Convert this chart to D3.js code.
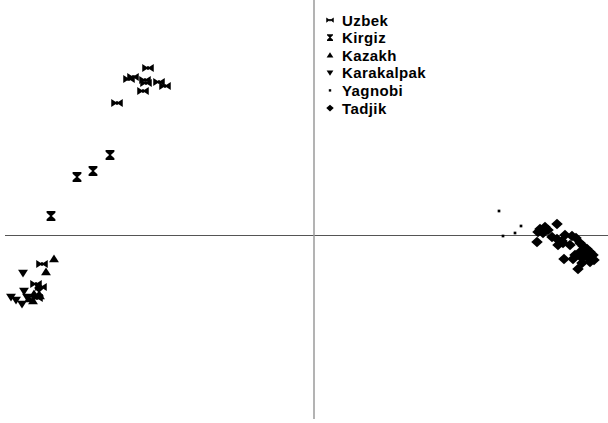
<!DOCTYPE html>
<html>
<head>
<meta charset="utf-8">
<script src="https://cdn.jsdelivr.net/npm/d3@7"></script>
<style>
  html, body { margin: 0; padding: 0; background: #fff; }
  svg { display: block; }
</style>
</head>
<body>
<svg id="chart" width="608" height="423"></svg>
<script>
// Principal-component scores (PC1, PC2) for each population
const groups = ["Uzbek", "Kirgiz", "Kazakh", "Karakalpak", "Yagnobi", "Tadjik"];

const uzbek = [
  [-1.66, 1.67], [-1.81, 1.58], [-1.85, 1.56], [-1.69, 1.55], [-1.68, 1.52],
  [-1.55, 1.53], [-1.49, 1.49], [-1.71, 1.44], [-1.97, 1.32],
  [-2.72, -0.29], [-2.78, -0.49], [-2.73, -0.52], [-2.77, -0.63]
];
const kirgiz = [
  [-2.04, 0.80], [-2.21, 0.64], [-2.37, 0.58], [-2.63, 0.19], [-2.75, -0.57]
];
const kazakh = [
  [-2.60, -0.24], [-2.68, -0.37], [-2.80, -0.59], [-2.74, -0.61], [-2.85, -0.64], [-2.81, -0.66]
];
const karakalpak = [
  [-2.91, -0.38], [-2.90, -0.56], [-3.03, -0.62], [-2.98, -0.65], [-2.92, -0.69], [-2.87, -0.62]
];
const yagnobi = [
  [1.85, 0.24], [2.07, 0.09], [2.01, 0.02], [1.89, -0.01]
];
const tadjik = [
  [2.26, 0.06], [2.31, 0.08], [2.24, 0.03], [2.29, 0.02], [2.43, 0.11], [2.23, -0.07],
  [2.38, -0.02], [2.43, -0.04], [2.48, -0.06], [2.51, 0.00], [2.58, -0.01], [2.44, -0.10],
  [2.49, -0.08], [2.56, -0.10], [2.62, -0.03], [2.66, -0.08], [2.69, -0.11], [2.73, -0.14],
  [2.76, -0.17], [2.79, -0.20], [2.66, -0.17], [2.71, -0.19], [2.61, -0.20], [2.59, -0.24],
  [2.68, -0.23], [2.74, -0.23], [2.80, -0.25], [2.50, -0.24], [2.68, -0.28], [2.64, -0.34],
  [2.76, -0.27], [2.34, 0.05]
];

const seriesData = [uzbek, kirgiz, kazakh, karakalpak, yagnobi, tadjik];

// Marker outlines, centred on the origin
const markerPaths = {
  Uzbek: "M-5,-3.5L-1,-0.8L-1,-1.5L1,-1.5L1,-0.8L5,-3.5L5,3.5L1,0.8L1,1.5L-1,1.5L-1,0.8L-5,3.5Z",
  Kirgiz: "M-4,-4.5L4,-4.5L4,-3L0.8,0L4,3L4,4.5L-4,4.5L-4,3L-0.8,0L-4,-3Z",
  Kazakh: "M0,-4L4.5,3L-4.5,3Z",
  Karakalpak: "M0,4L4.5,-3L-4.5,-3Z",
  Yagnobi: "M-1.5,-1.5L1.5,-1.5L1.5,1.5L-1.5,1.5Z",
  Tadjik: "M0,-4.5L5,0L0,4.5L-5,0Z"
};
const markerScale = { Uzbek: 1.15, Kirgiz: 1.1, Kazakh: 1.1, Karakalpak: 1.1, Yagnobi: 0.9, Tadjik: 1.15 };

const svg = d3.select("#chart");

const x = d3.scaleLinear().domain([-3.09, 2.94]).range([5, 608]);
const y = d3.scaleLinear().domain([2.35, -1.84]).range([0, 419]);

// Zero axes crossing at the origin
svg.append("line")
  .attr("x1", x(-3.09)).attr("x2", x(2.94))
  .attr("y1", y(0) + 0.5).attr("y2", y(0) + 0.5)
  .attr("stroke", "#555").attr("stroke-width", 1);
svg.append("line")
  .attr("x1", x(0)).attr("x2", x(0))
  .attr("y1", y(2.35)).attr("y2", y(-1.84))
  .attr("stroke", "#9a9a9a").attr("stroke-width", 1.5);

// Points
groups.forEach((g, i) => {
  svg.append("g")
    .selectAll("path")
    .data(seriesData[i])
    .join("path")
    .attr("d", markerPaths[g])
    .attr("transform", d => `translate(${x(d[0])},${y(d[1])}) scale(${markerScale[g]})`)
    .attr("fill", "#000");
});

// Legend
const legend = svg.append("g").attr("transform", "translate(330,20)");
const rows = legend.selectAll("g")
  .data(groups)
  .join("g")
  .attr("transform", (d, i) => `translate(0,${i * 17.6})`);
rows.append("path")
  .attr("d", d => markerPaths[d])
  .attr("transform", d => d === "Yagnobi" ? "scale(0.8)" : "scale(0.75)")
  .attr("fill", "#000");
rows.append("text")
  .attr("x", 12)
  .attr("y", 5.5)
  .attr("font-family", "'Liberation Sans', Arial, sans-serif")
  .attr("font-weight", "bold")
  .attr("font-size", 15)
  .attr("letter-spacing", 0.4)
  .attr("fill", "#000")
  .text(d => d);
</script>
</body>
</html>
